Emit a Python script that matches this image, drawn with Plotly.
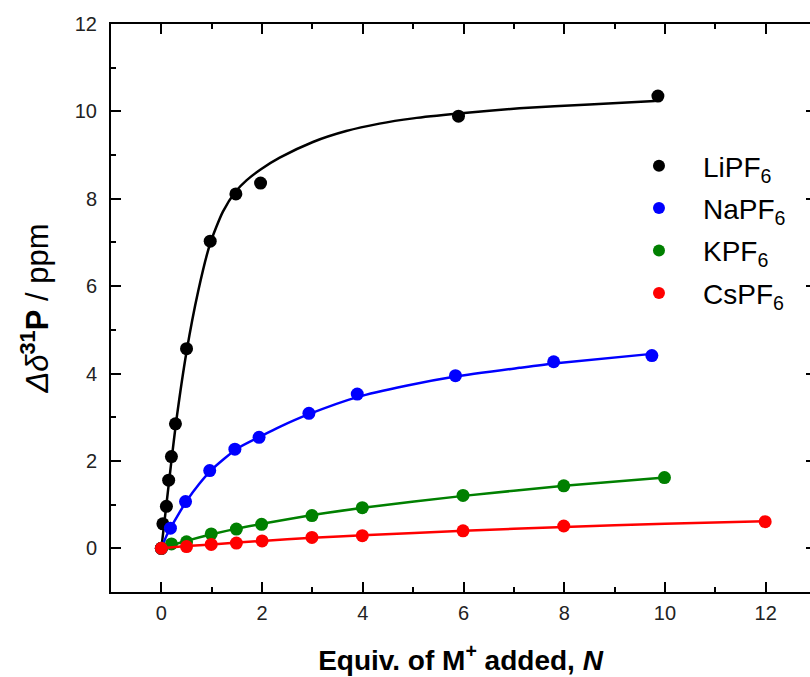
import plotly.graph_objects as go

# ---- data ----
li_n = [0, 0.03, 0.1, 0.145, 0.2, 0.28, 0.5, 0.97, 1.48, 1.97, 5.9, 9.86]
li_d = [0, 0.56, 0.96, 1.56, 2.1, 2.85, 4.57, 7.03, 8.11, 8.36, 9.89, 10.35]
na_n = [0, 0.18, 0.48, 0.96, 1.46, 1.94, 2.93, 3.89, 5.84, 7.79, 9.74]
na_d = [0, 0.46, 1.07, 1.78, 2.27, 2.54, 3.09, 3.53, 3.95, 4.27, 4.41]
k_n = [0, 0.2, 0.5, 0.99, 1.49, 1.99, 2.99, 3.99, 5.99, 7.99, 9.99]
k_d = [0, 0.10, 0.15, 0.33, 0.44, 0.55, 0.75, 0.93, 1.21, 1.43, 1.62]
cs_n = [0, 0.5, 0.99, 1.49, 2.0, 2.99, 3.99, 5.99, 7.99, 11.99]
cs_d = [0, 0.04, 0.09, 0.12, 0.17, 0.25, 0.29, 0.40, 0.51, 0.61]

# fitted curves
li_fit_n = [0, 0.1, 0.2, 0.3, 0.5, 0.73, 0.97, 1.22, 1.48, 1.69, 1.97, 2.35, 3.01, 3.67, 4.33, 5.0, 5.9, 7.11, 8.5, 9.8]
li_fit_d = [0, 1.0, 2.0, 2.95, 4.5, 5.88, 6.98, 7.7, 8.17, 8.42, 8.67, 8.94, 9.30, 9.55, 9.72, 9.84, 9.95, 10.07, 10.16, 10.24]
na_fit_n = [0, 0.1, 0.2, 0.35, 0.5, 0.75, 1.0, 1.5, 2.0, 2.35, 2.93, 3.89, 4.86, 5.84, 7.11, 7.79, 9.74]
na_fit_d = [0, 0.28, 0.5, 0.8, 1.08, 1.47, 1.8, 2.28, 2.58, 2.78, 3.07, 3.46, 3.72, 3.93, 4.13, 4.23, 4.45]
k_fit_n = [0, 0.2, 0.5, 1, 1.5, 2, 3, 4, 6, 8, 10]
k_fit_d = [0, 0.07, 0.17, 0.32, 0.45, 0.56, 0.76, 0.93, 1.2, 1.43, 1.62]
cs_fit_n = [0, 0.5, 1, 2, 3, 4, 6, 8, 10, 12]
cs_fit_d = [0, 0.05, 0.09, 0.17, 0.24, 0.30, 0.40, 0.49, 0.56, 0.62]

names = ["LiPF<sub>6</sub>", "NaPF<sub>6</sub>", "KPF<sub>6</sub>", "CsPF<sub>6</sub>"]
colors = ["#000000", "#0000FF", "#008000", "#FF0000"]

series = [
    (li_n, li_d, li_fit_n, li_fit_d),
    (na_n, na_d, na_fit_n, na_fit_d),
    (k_n, k_d, k_fit_n, k_fit_d),
    (cs_n, cs_d, cs_fit_n, cs_fit_d),
]

FONT = "Liberation Sans, Arial, sans-serif"
fig = go.Figure()
for i, (xn, yd, fx, fy) in enumerate(series):
    fig.add_trace(go.Scatter(x=fx, y=fy, mode="lines", line=dict(color=colors[i], width=2.5, shape="spline", smoothing=0.6),
                             showlegend=False, hoverinfo="skip", legendgroup=str(i)))
    fig.add_trace(go.Scatter(x=xn, y=yd, mode="markers", name=names[i], legendgroup=str(i),
                             marker=dict(color=colors[i], size=13, line=dict(width=0))))

# invisible helper trace so the right-hand tick axis is drawn
fig.add_trace(go.Scatter(x=cs_n, y=cs_d, yaxis="y2", mode="markers", marker=dict(opacity=0),
                         showlegend=False, hoverinfo="skip"))

minor = dict(ticks="inside", ticklen=5, tickwidth=2, tickcolor="black", dtick=1, tick0=0)
fig.update_layout(
    xaxis=dict(
        showline=True, linecolor="black", linewidth=2, mirror="ticks",
        ticks="inside", ticklen=10, tickwidth=2, tickcolor="black",
        showgrid=False, zeroline=False,
        tickfont=dict(family=FONT, size=20, color="#222222"), ticklabelstandoff=2,
        range=[-1, 12.88], tick0=0, dtick=2, minor=minor,
        title=dict(text="<b>Equiv. of M<sup>+</sup> added, <i>N</i></b>",
                   font=dict(family=FONT, size=28, color="black"), standoff=27),
    ),
    yaxis=dict(
        showline=True, linecolor="black", linewidth=2, mirror=False,
        ticks="inside", ticklen=10, tickwidth=2, tickcolor="black",
        showgrid=False, zeroline=False,
        tickfont=dict(family=FONT, size=20, color="#222222"), ticklabelstandoff=8,
        range=[-1, 12], tick0=0, dtick=2, minor=minor,
        title=dict(text="<i>Δδ</i><sup><b>31</b></sup><b>P</b> / ppm",
                   font=dict(family=FONT, size=31, color="black"), standoff=17),
    ),
    yaxis2=dict(
        overlaying="y", side="right", showline=False,
        ticks="inside", ticklen=4, tickwidth=2, tickcolor="black",
        showgrid=False, zeroline=False, showticklabels=False,
        range=[-1, 12], tick0=0, dtick=2,
        minor=dict(ticks="", dtick=1),
    ),
    width=810, height=677,
    margin=dict(l=111, r=0, t=24, b=85),
    plot_bgcolor="white", paper_bgcolor="white",
    legend=dict(x=0.721, y=0.794, xanchor="left", yanchor="top",
                font=dict(family=FONT, size=28, color="black"),
                bgcolor="rgba(0,0,0,0)", traceorder="grouped", tracegroupgap=3,
                itemsizing="constant", itemwidth=78),
    showlegend=True,
)
fig.write_html("out.html")
